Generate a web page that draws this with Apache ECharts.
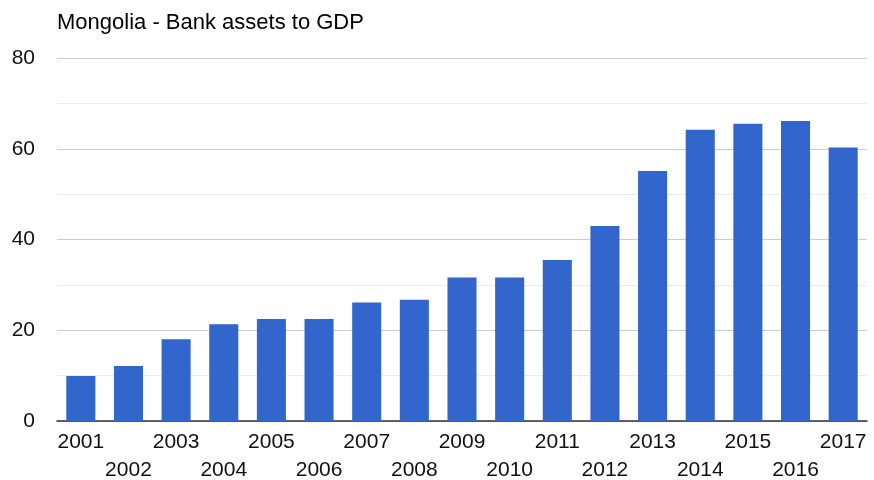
<!DOCTYPE html>
<html><head><meta charset="utf-8">
<script src="https://cdn.jsdelivr.net/npm/echarts@6/dist/echarts.min.js"></script>
<style>html,body{margin:0;padding:0;background:#fff}#c{width:874px;height:480px}</style>
</head><body><div id="c"></div>
<script>
const years = ['2001','2002','2003','2004','2005','2006','2007','2008','2009','2010','2011','2012','2013','2014','2015','2016','2017'];
const bankAssetsToGDP = [9.9, 12.1, 18.0, 21.3, 22.5, 22.5, 26.1, 26.7, 31.6, 31.6, 35.5, 43.0, 55.1, 64.2, 65.5, 66.1, 60.3];
const yTicks = [0, 20, 40, 60, 80];

const chart = echarts.init(document.getElementById('c'), null, {renderer: 'canvas'});
chart.setOption({
  animation: false,
  title: {
    text: 'Mongolia - Bank assets to GDP',
    left: 52, top: 7,
    textStyle: {fontFamily: 'Liberation Sans, Arial', fontSize: 22, fontWeight: 'normal', color: '#000'}
  },
  grid: {left: 57, right: 7, top: 58, bottom: 59, containLabel: false, outerBoundsMode: 'none'},
  xAxis: {
    type: 'category',
    data: years,
    axisLine: {lineStyle: {color: '#333', width: 1.5}},
    axisTick: {show: false},
    axisLabel: {
      interval: 0,
      margin: 7,
      lineHeight: 28,
      fontFamily: 'Liberation Sans, Arial',
      fontSize: 21,
      color: '#111',
      formatter: (v, i) => (i % 2 ? '\n' + v : v)
    }
  },
  yAxis: {
    type: 'value',
    min: yTicks[0], max: yTicks[yTicks.length - 1], interval: 20,
    axisLine: {show: false},
    axisTick: {show: false},
    axisLabel: {margin: 22, fontFamily: 'Liberation Sans, Arial', fontSize: 21, color: '#111'},
    splitLine: {lineStyle: {color: '#cccccc', width: 1}},
    minorTick: {show: false, splitNumber: 2},
    minorSplitLine: {show: true, lineStyle: {color: '#ebebeb', width: 1}}
  },
  series: [{
    type: 'bar',
    data: bankAssetsToGDP,
    barWidth: '61%',
    itemStyle: {color: '#3366cc'}
  }]
});
</script>
</body></html>
